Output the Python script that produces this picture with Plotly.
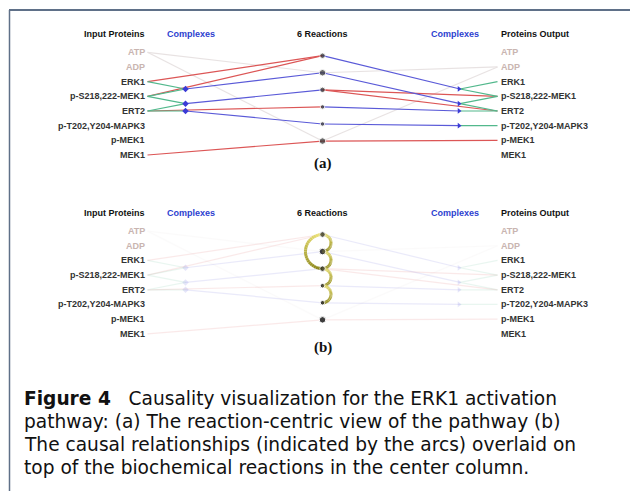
import plotly.graph_objects as go

# ---------------- data ----------------
proteins = ["ATP", "ADP", "ERK1", "p-S218,222-MEK1", "ERT2",
            "p-T202,Y204-MAPK3", "p-MEK1", "MEK1"]
small_molecules = ["ATP", "ADP"]
input_complexes = {
    "Cin1": ["ERK1", "p-S218,222-MEK1"],
    "Cin2": ["p-S218,222-MEK1", "ERT2"],
    "Cin3": ["ERT2"],
}
output_complexes = {
    "Cout1": ["ERK1", "p-S218,222-MEK1"],
    "Cout2": ["p-S218,222-MEK1", "ERT2"],
    "Cout3": ["ERT2"],
    "Cout4": ["p-T202,Y204-MAPK3"],
}
reaction_inputs = [
    ["ERK1", "p-S218,222-MEK1"],
    ["Cin1", "ATP"],
    ["Cin2"],
    ["ERT2"],
    ["Cin3"],
    ["MEK1", "ATP"],
]
reaction_outputs = [
    ["Cout1"],
    ["Cout2", "ADP"],
    ["p-S218,222-MEK1", "ERT2"],
    ["Cout3"],
    ["Cout4"],
    ["p-MEK1", "ADP"],
]
# causal arcs (from reaction, to reaction, side)
causal_arcs = [(1, 3, "left"), (1, 2, "right"), (2, 3, "right"),
               (3, 4, "right"), (4, 5, "right")]
headers = ["Input Proteins", "Complexes", "6 Reactions", "Complexes", "Proteins Output"]
caption = [
    "<b>Figure 4</b>   Causality visualization for the ERK1 activation",
    "pathway: (a) The reaction-centric view of the pathway (b)",
    "The causal relationships (indicated by the arcs) overlaid on",
    "top of the biochemical reactions in the center column.",
]

# ---------------- layout constants ----------------
W, H = 630, 491
X_IN_LABEL, X_CIN, X_RX, X_COUT, X_OUT_LABEL = 146.5, 185.5, 322.5, 460, 498.5
ROW0, ROW_STEP = 52.3, 14.67
RX0, RX_STEP = 55.7, 17.07
PANEL_DY = 178.8
RED, BLUE, GREEN, GREY = "#dc5656", "#5a5ad8", "#52b88c", "#d6cccc"
DARK = "#333333"
FADED_TXT = "#c9b5b1"
LABEL_FONT = "Liberation Sans"

fig = go.Figure()
annotations = []


def row_y(name, dy):
    return ROW0 + proteins.index(name) * ROW_STEP + dy


def cplx_y(members, dy):
    return sum(row_y(m, dy) for m in members) / len(members)


def rx_y(k, dy):
    return RX0 + k * RX_STEP + dy


def add_lines(segs, color, opacity, width=1.2):
    xs, ys = [], []
    for (x0, y0, x1, y1) in segs:
        xs += [x0, x1, None]
        ys += [y0, y1, None]
    fig.add_trace(go.Scatter(x=xs, y=ys, mode="lines", opacity=opacity,
                             line=dict(color=color, width=width),
                             hoverinfo="skip", showlegend=False))


def draw_panel(dy, faint):
    op = 0.12 if faint else 1.0
    red, blue, green, grey = [], [], [], []
    for cname, members in input_complexes.items():
        cy = cplx_y(members, dy)
        for m in members:
            green.append((X_IN_LABEL + 1, row_y(m, dy), X_CIN, cy))
    for cname, members in output_complexes.items():
        cy = cplx_y(members, dy)
        for m in members:
            green.append((X_COUT, cy, X_OUT_LABEL - 1, row_y(m, dy)))
    for k, (ins, outs) in enumerate(zip(reaction_inputs, reaction_outputs)):
        ry = rx_y(k, dy)
        for n in ins:
            if n in input_complexes:
                blue.append((X_CIN, cplx_y(input_complexes[n], dy), X_RX, ry))
            elif n in small_molecules:
                grey.append((X_IN_LABEL + 1, row_y(n, dy), X_RX, ry))
            else:
                red.append((X_IN_LABEL + 1, row_y(n, dy), X_RX, ry))
        for n in outs:
            if n in output_complexes:
                blue.append((X_RX, ry, X_COUT, cplx_y(output_complexes[n], dy)))
            elif n in small_molecules:
                grey.append((X_RX, ry, X_OUT_LABEL - 1, row_y(n, dy)))
            else:
                red.append((X_RX, ry, X_OUT_LABEL - 1, row_y(n, dy)))
    add_lines(grey, GREY, 0.08 if faint else 0.55)
    add_lines(red, RED, op)
    add_lines(blue, BLUE, op)
    add_lines(green, GREEN, op)
    fig.add_trace(go.Scatter(
        x=[X_CIN] * len(input_complexes),
        y=[cplx_y(m, dy) for m in input_complexes.values()],
        mode="markers", opacity=op,
        marker=dict(symbol="diamond", size=5, color="#3b3bd6"),
        hoverinfo="skip", showlegend=False))
    fig.add_trace(go.Scatter(
        x=[X_COUT - 1] * len(output_complexes),
        y=[cplx_y(m, dy) for m in output_complexes.values()],
        mode="markers", opacity=op,
        marker=dict(symbol="triangle-right", size=5, color="#3b3bd6"),
        hoverinfo="skip", showlegend=False))
    deg = [len(i) + len(o) for i, o in zip(reaction_inputs, reaction_outputs)]
    fig.add_trace(go.Scatter(
        x=[X_RX] * len(reaction_inputs),
        y=[rx_y(k, dy) for k in range(len(reaction_inputs))],
        mode="markers",
        marker=dict(size=[2.5 + d for d in deg], color="#2b2b2b"),
        hoverinfo="skip", showlegend=False))
    for p in proteins:
        col = FADED_TXT if p in small_molecules else DARK
        annotations.append(dict(x=X_IN_LABEL, y=row_y(p, dy), text="<b>%s</b>" % p,
                                showarrow=False, xanchor="right", yanchor="middle",
                                font=dict(family=LABEL_FONT, size=9, color=col)))
        annotations.append(dict(x=X_OUT_LABEL, y=row_y(p, dy), text="<b>%s</b>" % p,
                                showarrow=False, xanchor="left", yanchor="middle",
                                font=dict(family=LABEL_FONT, size=9, color=col)))
    hx = [(X_IN_LABEL, "right", "#111111"), (X_CIN + 5, "center", "#2d3fd0"),
          (X_RX, "center", "#111111"), (X_COUT - 5, "center", "#2d3fd0"),
          (X_OUT_LABEL, "left", "#111111")]
    for t, (x, anc, col) in zip(headers, hx):
        annotations.append(dict(x=x, y=ROW0 - 18.5 + dy, text="<b>%s</b>" % t, showarrow=False,
                                xanchor=anc, yanchor="middle",
                                font=dict(family=LABEL_FONT, size=9, color=col)))


def arc_points(a, b, side, dy, n=24):
    import math
    ya, yb = rx_y(a - 1, dy), rx_y(b - 1, dy)
    cy = (ya + yb) / 2
    r = abs(yb - ya) / 2
    sgn = -1 if side == "left" else 1
    pts = []
    for i in range(n + 1):
        t = math.pi * i / n
        pts.append((X_RX + sgn * r * math.sin(t), cy - r * math.cos(t)))
    return pts


def mix(c1, c2, t):
    a = [int(c1[i:i + 2], 16) for i in (1, 3, 5)]
    b = [int(c2[i:i + 2], 16) for i in (1, 3, 5)]
    return "rgb(%d,%d,%d)" % tuple(round(a[i] + (b[i] - a[i]) * t) for i in range(3))


draw_panel(0, False)
draw_panel(PANEL_DY, True)

for (a, b, side) in causal_arcs:
    pts = arc_points(a, b, side, PANEL_DY)
    n = len(pts) - 1
    for i in range(n):
        fig.add_trace(go.Scatter(
            x=[pts[i][0], pts[i + 1][0]], y=[pts[i][1], pts[i + 1][1]],
            mode="lines", line=dict(color=mix("#f0e67a", "#858014", i / (n - 1)), width=3),
            hoverinfo="skip", showlegend=False))
fig.add_trace(go.Scatter(
    x=[X_RX] * len(reaction_inputs),
    y=[rx_y(k, PANEL_DY) for k in range(len(reaction_inputs))],
    mode="markers",
    marker=dict(size=[2.5 + len(i) + len(o) for i, o in zip(reaction_inputs, reaction_outputs)],
                color="#2b2b2b"),
    hoverinfo="skip", showlegend=False))

for lab, y in [("(a)", 163), ("(b)", 347)]:
    annotations.append(dict(x=X_RX, y=y, text="<b>%s</b>" % lab, showarrow=False,
                            xanchor="center", yanchor="middle",
                            font=dict(family="Liberation Serif", size=15, color="#111111")))

for i, line in enumerate(caption):
    annotations.append(dict(x=22, y=398 + i * 23.2, text=line, showarrow=False,
                            xanchor="left", yanchor="middle",
                            font=dict(family="DejaVu Sans", size=18.6, color="#111111")))

shapes = [
    dict(type="line", x0=9, x1=W, y0=10, y1=10, line=dict(color="#5f7088", width=2)),
    dict(type="line", x0=9.5, x1=9.5, y0=10, y1=H, line=dict(color="#5f7088", width=1.5)),
]

fig.update_layout(
    width=W, height=H, margin=dict(l=0, r=0, t=0, b=0),
    paper_bgcolor="white", plot_bgcolor="white",
    xaxis=dict(range=[0, W], visible=False, fixedrange=True),
    yaxis=dict(range=[H, 0], visible=False, fixedrange=True),
    annotations=annotations, shapes=shapes, showlegend=False,
)
fig.write_html("out.html", config={"displayModeBar": False},
               post_script="document.body.style.margin='0px';")
